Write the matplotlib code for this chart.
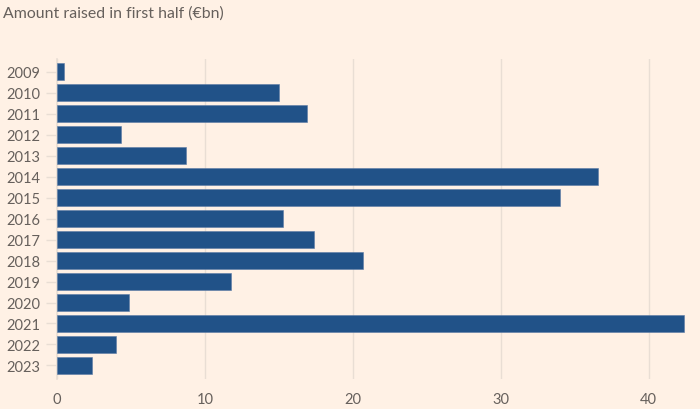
import numpy as np
import matplotlib.pyplot as plt

# ---- data ----
years = ["2009", "2010", "2011", "2012", "2013", "2014", "2015", "2016",
         "2017", "2018", "2019", "2020", "2021", "2022", "2023"]
raised = [0.45, 15.0, 16.9, 4.3, 8.7, 36.6, 34.0, 15.3,
          17.4, 20.7, 11.8, 4.9, 42.4, 4.0, 2.35]
xticks = [0, 10, 20, 30, 40]

BG = "#FFF1E5"
BAR = "#215288"
TXT = "#66605C"
GRID = "#E9DED4"

plt.rcParams.update({
    "font.family": ["Lato", "DejaVu Sans"],
    "font.size": 10,
})

fig = plt.figure(figsize=(7.0, 4.1), dpi=100, facecolor=BG)
ax = fig.add_axes([0.0814, 0.073, 0.9, 0.781], facecolor=BG)

y = np.arange(len(years))
ax.barh(y, raised, height=0.8, color=BAR, edgecolor="#5B7BA5", linewidth=0.4, zorder=3)

ax.set_yticks(y)
ax.set_yticklabels(years)
ax.set_ylim(len(years) - 0.35, -0.62)
ax.set_xlim(0, 42.6)
ax.set_xticks(xticks)
ax.set_xticklabels([str(t) for t in xticks])

for s in ["top", "right", "bottom"]:
    ax.spines[s].set_visible(False)
ax.spines["left"].set_color(GRID)
ax.spines["left"].set_linewidth(1.2)

ax.grid(axis="x", color=GRID, linewidth=1.0, zorder=0)
ax.tick_params(axis="y", length=8, color=GRID, width=1.0, pad=4, labelcolor=TXT, labelsize=10.5)
ax.tick_params(axis="x", length=0, pad=9, labelcolor=TXT, labelsize=10.5)

fig.text(0.004, 0.966, "Amount raised in first half (\u20acbn)", color=TXT,
         fontsize=11.4, ha="left", va="center")

fig.savefig("out.png", dpi=100, facecolor=BG)
